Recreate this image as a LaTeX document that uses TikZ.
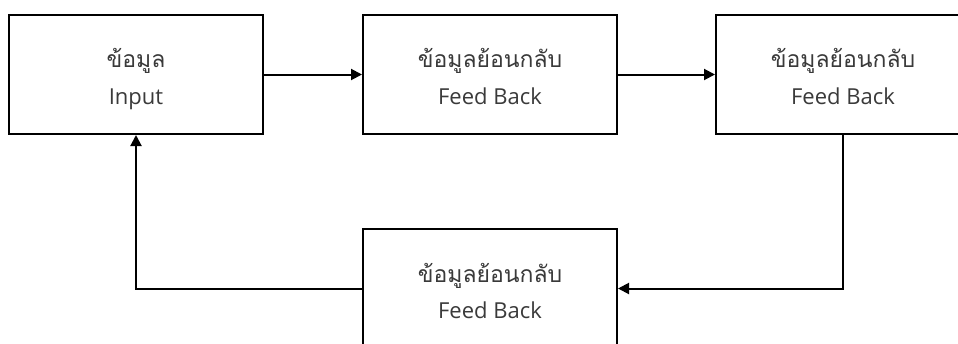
\documentclass[tikz,border=0pt]{standalone}
\usepackage{fontspec}
\setmainfont{Open Sans}
\newfontfamily\thaifont[Script=Thai]{Loma}
\usetikzlibrary{arrows.meta}
\definecolor{txt}{HTML}{3A3A3A}
\tikzset{
  box/.style={draw=black, line width=2pt, minimum width=254pt, minimum height=119pt, inner sep=0pt, fill=white},
  th/.style={anchor=base, text=txt, font=\thaifont\fontsize{23}{27}\selectfont, inner sep=0pt},
  en/.style={anchor=base, text=txt, font=\fontsize{22}{26}\selectfont, inner sep=0pt},
  conn/.style={line width=2pt, -{Triangle[length=11pt,width=11pt]}}
}
\begin{document}
\begin{tikzpicture}[x=1pt,y=-1pt]
\useasboundingbox (0,0) rectangle (958,343);
\clip (0,0) rectangle (958,343);
\fill[white] (0,0) rectangle (958,343);
\node[box] (b1) at (136,74.5) {};
\node[box] (b2) at (490,74.5) {};
\node[box] (b3) at (843,74.5) {};
\node[box] (b4) at (490,288.5) {};
\node[th] (t1) at ([yshift=7pt]b1.center) {ข้อมูล};
\node[en] (e1) at ([yshift=-30pt]b1.center) {Input};
\node[th] (t2) at ([yshift=7pt]b2.center) {ข้อมูลย้อนกลับ};
\node[en] (e2) at ([yshift=-30pt]b2.center) {Feed Back};
\node[th] (t3) at ([yshift=7pt]b3.center) {ข้อมูลย้อนกลับ};
\node[en] (e3) at ([yshift=-30pt]b3.center) {Feed Back};
\node[th] (t4) at ([yshift=6pt]b4.center) {ข้อมูลย้อนกลับ};
\node[en] (e4) at ([yshift=-30pt]b4.center) {Feed Back};
\draw[conn] (b1.east) -- (b2.west);
\draw[conn] (b2.east) -- (b3.west);
\draw[conn] (b3.south) |- (b4.east);
\draw[conn] (b4.west) -| (b1.south);
\end{tikzpicture}
\end{document}
